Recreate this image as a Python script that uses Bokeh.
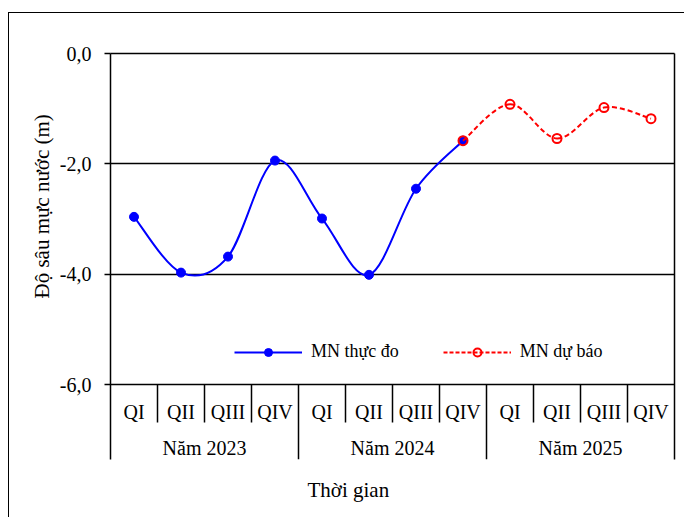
from bokeh.plotting import figure
from bokeh.models import (Range1d, LinearAxis, FixedTicker, CustomJSTickFormatter,
                          Legend, LegendItem, Title, ColumnDataSource)
from bokeh.core.properties import value
from bokeh.embed import file_html
from bokeh.resources import INLINE

# ---------------- data ----------------
quarters = ["QI", "QII", "QIII", "QIV", "QI", "QII", "QIII", "QIV", "QI", "QII", "QIII", "QIV"]
years = ["Năm 2023", "Năm 2024", "Năm 2025"]
measured = [-2.96, -3.97, -3.68, -1.94, -2.99, -4.01, -2.45, -1.58]
forecast = [-1.58, -0.92, -1.54, -0.98, -1.18]
forecast_start = 7          # index of the quarter where the forecast begins
y_ticks = [0, -2, -4, -6]

FONT = "Liberation Serif"

n_q = len(quarters)
q_per_year = n_q // len(years)
xc = [i + 0.5 for i in range(n_q)]
x_meas = xc[:len(measured)]
x_fore = xc[forecast_start:forecast_start + len(forecast)]


def smooth(xs, ys):
    """Bezier segments (Excel-like smoothed line) built from the data points."""
    n = len(xs)
    d = dict(x0=[], y0=[], x1=[], y1=[], cx0=[], cy0=[], cx1=[], cy1=[])
    for i in range(n - 1):
        a = i - 1 if i > 0 else i
        b = i + 2 if i + 2 < n else i + 1
        d["x0"].append(xs[i]); d["y0"].append(ys[i])
        d["x1"].append(xs[i + 1]); d["y1"].append(ys[i + 1])
        d["cx0"].append(xs[i] + (xs[i + 1] - xs[a]) / 6)
        d["cy0"].append(ys[i] + (ys[i + 1] - ys[a]) / 6)
        d["cx1"].append(xs[i + 1] - (xs[b] - xs[i]) / 6)
        d["cy1"].append(ys[i + 1] - (ys[b] - ys[i]) / 6)
    return ColumnDataSource(d)


y_bottom = -7.356     # bottom of the category block
q_sep_bottom = -6.687
q_label_y = -6.50
yr_label_y = -7.15

p = figure(width=676, height=505, output_backend="svg", toolbar_location=None,
           x_range=Range1d(0, n_q), y_range=Range1d(y_bottom, 0),
           x_axis_location="above", y_axis_location="left",
           min_border_left=101, min_border_right=11, min_border_top=40, min_border_bottom=58)
p.margin = (12, 0, 0, 8)
p.title.visible = False
p.outline_line_color = None
p.background_fill_color = "white"
p.border_fill_color = "white"
p.styles = {"border-left": "1.5px solid black", "border-top": "1.5px solid black"}

# top line (axis with no ticks)
top = p.xaxis[0]
top.ticker = FixedTicker(ticks=[])
top.major_label_text_font_size = "0px"
top.major_tick_line_color = None
top.minor_tick_line_color = None
top.axis_line_width = 1.5
top.axis_line_color = "black"

# left y axis
ya = p.yaxis[0]
ya.ticker = FixedTicker(ticks=y_ticks)
ya.formatter = CustomJSTickFormatter(code="return tick.toFixed(1).replace('.', ',');")
ya.major_label_text_font = FONT
ya.major_label_text_font_size = "20px"
ya.major_label_text_color = "black"
ya.major_tick_in = 0
ya.major_tick_out = 6
ya.major_tick_line_width = 1.5
ya.minor_tick_line_color = None
ya.axis_line_width = 1.5
ya.axis_line_color = "black"
ya.major_label_standoff = 13

# right line
ra = LinearAxis(ticker=FixedTicker(ticks=[]), major_label_text_font_size="0px",
                major_tick_line_color=None, minor_tick_line_color=None,
                axis_line_width=1.5, axis_line_color="black")
p.add_layout(ra, "right")

p.xgrid.visible = False
p.ygrid[0].ticker = FixedTicker(ticks=[t for t in y_ticks if t != 0])
p.ygrid.grid_line_color = "black"
p.ygrid.grid_line_width = 1.5

# category separators
bx = list(range(1, n_q))
by = [y_bottom if b % q_per_year == 0 else q_sep_bottom for b in bx]
p.segment(x0=bx, y0=[y_ticks[-1]] * len(bx), x1=bx, y1=by, line_color="black", line_width=1.5)

# category labels
p.text(x=xc, y=[q_label_y] * n_q, text=quarters, text_align="center", text_baseline="middle",
       text_font=value(FONT), text_font_size="20px", text_color="black")
yc = [q_per_year * (i + 0.5) for i in range(len(years))]
p.text(x=yc, y=[yr_label_y] * len(years), text=years, text_align="center", text_baseline="middle",
       text_font=value(FONT), text_font_size="20px", text_color="black")

# series
p.bezier(source=smooth(x_meas, measured), x0="x0", y0="y0", x1="x1", y1="y1",
         cx0="cx0", cy0="cy0", cx1="cx1", cy1="cy1", line_color="blue", line_width=2)
s_meas = p.scatter(x=x_meas, y=measured, marker="circle", size=9,
                   fill_color="blue", line_color="blue")
p.bezier(source=smooth(x_fore, forecast), x0="x0", y0="y0", x1="x1", y1="y1",
         cx0="cx0", cy0="cy0", cx1="cx1", cy1="cy1", line_color="red", line_width=2,
         line_dash="5 3")
s_fore = p.scatter(x=x_fore, y=forecast, marker="circle", size=9, fill_color=None,
                   line_color="red", line_width=2)

# legend proxies (hidden in the plot, shown in the legend)
l_meas = p.line(x=x_meas, y=measured, line_color="blue", line_width=2, visible=False)
l_fore = p.line(x=x_fore, y=forecast, line_color="red", line_width=2, line_dash="4 2",
                visible=False)
leg = Legend(items=[LegendItem(label="MN thực đo", renderers=[l_meas, s_meas]),
                    LegendItem(label="MN dự báo", renderers=[l_fore, s_fore])],
             location=(124, 97), orientation="horizontal", border_line_color=None,
             background_fill_alpha=0, padding=0, margin=0, spacing=44,
             glyph_width=68, glyph_height=20, label_height=20, label_standoff=9,
             label_text_font=FONT, label_text_font_size="18px", label_text_color="black",
             inactive_fill_alpha=0)
p.add_layout(leg, "center")

# axis titles
p.add_layout(Title(text="Độ sâu mực nước (m)", align="left", offset=161, standoff=6,
                   text_font=FONT, text_font_size="21px", text_font_style="normal",
                   text_color="black"), "left")
p.add_layout(Title(text="Thời gian", align="left", offset=197, standoff=33,
                   text_font=FONT, text_font_size="21px", text_font_style="normal",
                   text_color="black"), "below")

open("out.html", "w").write(file_html(p, INLINE))
